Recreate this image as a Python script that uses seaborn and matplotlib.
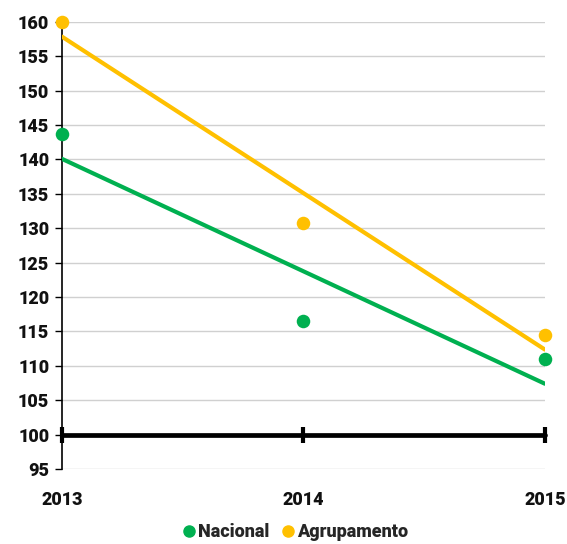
import matplotlib.pyplot as plt
import seaborn as sns
import pandas as pd

years = [2013, 2014, 2015]
nacional = [143.7, 116.5, 111.0]
agrupamento = [160.0, 130.8, 114.5]
base_value = 100

green = '#00B050'
yellow = '#FFC000'

df = pd.DataFrame({'ano': years, 'Nacional': nacional, 'Agrupamento': agrupamento})

sns.set_theme(style='white')
plt.rcParams['font.family'] = ['Roboto', 'DejaVu Sans']
plt.rcParams['font.weight'] = 'bold'

fig = plt.figure(figsize=(5.67, 5.44), dpi=100)
ax = fig.add_axes([0.109, 0.138, 0.852, 0.822])

# baseline at 100 with year ticks
ax.plot(years, [base_value] * len(years), color='black', lw=3.4,
        marker='|', markersize=11, markeredgewidth=3, clip_on=False, zorder=3)

for col, color in [('Nacional', green), ('Agrupamento', yellow)]:
    sns.regplot(data=df, x='ano', y=col, ci=None, ax=ax, color=color,
                scatter_kws={'s': 95, 'alpha': 1, 'clip_on': False, 'zorder': 5, 'linewidths': 0},
                line_kws={'lw': 3.0, 'zorder': 4}, label=col)

ax.set_xlim(2013, 2015)
ax.set_ylim(95, 160)
ax.set_yticks(range(95, 161, 5))
ax.set_xticks(years)
ax.set_xlabel('')
ax.set_ylabel('')
ax.yaxis.grid(True, color='#D0D0D0', lw=1)
ax.set_axisbelow(True)
for s in ['top', 'right', 'bottom']:
    ax.spines[s].set_visible(False)
ax.spines['left'].set_color('black')
ax.spines['left'].set_linewidth(1.2)
ax.tick_params(axis='y', left=True, length=5, width=1, color='black',
               labelsize=13, pad=4)
ax.tick_params(axis='x', bottom=False, labelsize=13, pad=10)
for lbl in ax.get_xticklabels() + ax.get_yticklabels():
    lbl.set_fontweight('heavy')
    lbl.set_color('#111111')

handles = [plt.Line2D([], [], marker='o', ls='', color=green, markersize=8),
           plt.Line2D([], [], marker='o', ls='', color=yellow, markersize=8)]
fig.legend(handles, ['Nacional', 'Agrupamento'], loc='lower center',
           bbox_to_anchor=(0.52, -0.025), ncol=2, frameon=False, handletextpad=0.1,
           handlelength=0.8, columnspacing=0.6, prop={'weight': 'heavy', 'size': 13})

fig.savefig('out.png', dpi=100)
